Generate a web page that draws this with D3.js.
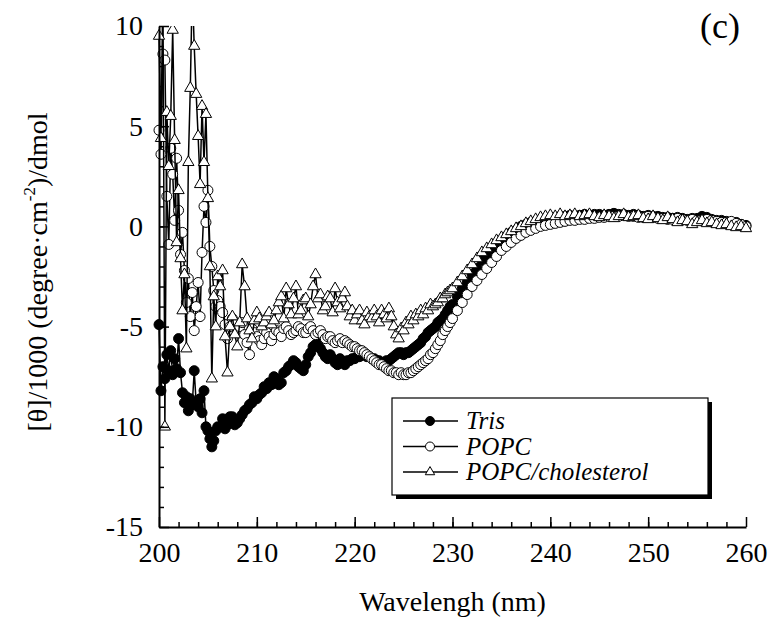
<!DOCTYPE html>
<html>
<head>
<meta charset="utf-8">
<script src="https://cdn.jsdelivr.net/npm/d3@7"></script>
<style>
  body { margin: 0; background: #fff; }
  text { font-family: "Liberation Serif", "Times New Roman", serif; }
</style>
</head>
<body>
<div id="chart"></div>
<script>
// wavelengths (nm)
const wavelengths = [
  200, 200.2, 200.4, 200.6, 200.8, 201, 201.2, 201.4, 201.6, 201.8,
  202, 202.2, 202.4, 202.6, 202.8, 203, 203.2, 203.4, 203.6, 203.8,
  204, 204.2, 204.4, 204.6, 204.8, 205, 205.2, 205.4, 205.6, 205.8, 206,
  206.25, 206.5, 206.75, 207, 207.25, 207.5, 207.75, 208,
  208.25, 208.5, 208.75, 209, 209.25, 209.5, 209.75, 210,
  210.25, 210.5, 210.75, 211, 211.25, 211.5, 211.75, 212,
  212.25, 212.5, 212.75, 213, 213.25, 213.5, 213.75, 214,
  214.25, 214.5, 214.75, 215, 215.25, 215.5, 215.75, 216,
  216.25, 216.5, 216.75, 217, 217.25, 217.5, 217.75, 218,
  218.25, 218.5, 218.75, 219, 219.25, 219.5, 219.75, 220,
  220.25, 220.5, 220.75, 221, 221.25, 221.5, 221.75, 222,
  222.25, 222.5, 222.75, 223, 223.25, 223.5, 223.75, 224,
  224.25, 224.5, 224.75, 225, 225.25, 225.5, 225.75, 226,
  226.25, 226.5, 226.75, 227, 227.25, 227.5, 227.75, 228,
  228.25, 228.5, 228.75, 229, 229.25, 229.5, 229.75, 230,
  230.5, 231, 231.5, 232, 232.5, 233, 233.5, 234, 234.5, 235,
  235.5, 236, 236.5, 237, 237.5, 238, 238.5, 239, 239.5, 240,
  240.5, 241, 241.5, 242, 242.5, 243, 243.5, 244, 244.5, 245,
  245.5, 246, 246.5, 247, 247.5, 248, 248.5, 249, 249.5, 250,
  250.5, 251, 251.5, 252, 252.5, 253, 253.5, 254, 254.5, 255,
  255.5, 256, 256.5, 257, 257.5, 258, 258.5, 259, 259.5, 260
];

const tris = [
  -4.9, -8.2, -7.0, -7.6, -6.4, -7.2, -6.2, -7.4, -6.6, -7.1,
  -5.6, -7.3, -8.3, -8.8, -8.5, -9.2, -8.6, -8.9, -7.2, -8.8,
  -9.0, -8.6, -9.3, -8.2, -10.0, -10.2, -10.6, -11.0, -10.7, -10.2, -10.0,
  -10.0, -9.6, -10.1, -9.9, -9.5, -9.5, -9.9, -9.8,
  -9.6, -9.4, -9.2, -9.1, -8.9, -8.8, -8.5, -8.6,
  -8.4, -8.3, -8.0, -8.1, -7.8, -7.9, -7.5, -7.6,
  -7.9, -7.8, -7.3, -7.2, -7.0, -6.9, -6.7, -6.8,
  -7.0, -7.1, -7.2, -6.9, -6.5, -6.3, -6.0, -5.9,
  -5.8, -6.1, -6.3, -6.5, -6.6, -6.4, -6.6, -6.8,
  -6.9, -6.6, -6.8, -6.9, -6.7, -6.7, -6.6, -6.6,
  -6.5, -6.5, -6.4, -6.4, -6.5, -6.5, -6.6, -6.6,
  -6.7, -6.7, -6.8, -6.8, -6.7, -6.7, -6.6, -6.5,
  -6.4, -6.3, -6.3, -6.4, -6.3, -6.3, -6.2, -6.1,
  -6.0, -5.9, -5.8, -5.6, -5.5, -5.3, -5.2, -5.1,
  -5.0, -4.8, -4.7, -4.6, -4.4, -4.2, -4.0, -3.9,
  -3.5, -3.1, -2.8, -2.4, -2.1, -1.7, -1.4, -1.1, -0.9, -0.7,
  -0.5, -0.3, -0.2, 0.0, 0.1, 0.2, 0.2, 0.3, 0.4, 0.4,
  0.45, 0.5, 0.5, 0.55, 0.5, 0.55, 0.6, 0.55, 0.6, 0.6,
  0.55, 0.6, 0.65, 0.6, 0.6, 0.55, 0.6, 0.55, 0.5, 0.55,
  0.5, 0.5, 0.45, 0.45, 0.4, 0.45, 0.4, 0.35, 0.4, 0.4,
  0.5, 0.45, 0.35, 0.3, 0.3, 0.25, 0.2, 0.2, 0.1, 0.05
];

const popc = [
  4.8, 3.6, 8.6, 8.3, 1.5, -0.9, 3.9, 2.6, 0.3, 3.4,
  0.8, -1.4, -0.3, -2.2, -3.8, -2.6, -4.5, -3.3, -5.2, -4.0,
  -2.8, -4.5, -1.3, 1.0, 0.2, 1.8, -1.0, -2.0, -3.2, -4.0, -3.7,
  -4.0, -4.3, -4.9, -5.6, -5.0, -4.6, -4.9, -5.3,
  -5.0, -4.8, -5.4, -5.8, -6.4, -5.1, -5.3, -5.5,
  -5.7, -5.9, -5.6, -5.3, -5.5, -5.7, -5.4, -5.2,
  -5.3, -5.5, -5.1, -5.0, -5.2, -5.4, -5.3, -5.2,
  -5.0, -5.1, -5.3, -5.3, -5.1, -5.0, -5.2, -5.4,
  -5.3, -5.2, -5.4, -5.6, -5.5, -5.5, -5.7, -5.8,
  -5.7, -5.6, -5.8, -5.7, -5.8, -5.9, -6.0, -6.0,
  -6.1, -6.2, -6.2, -6.3, -6.4, -6.5, -6.6, -6.7,
  -6.8, -6.9, -6.9, -7.0, -7.1, -7.2, -7.2, -7.3,
  -7.3, -7.4, -7.3, -7.4, -7.4, -7.3, -7.3, -7.2,
  -7.1, -7.0, -6.9, -6.8, -6.7, -6.6, -6.4, -6.3,
  -6.1, -5.9, -5.7, -5.4, -5.2, -5.0, -4.8, -4.6,
  -4.2, -3.8, -3.4, -3.0, -2.7, -2.4, -2.1, -1.8, -1.5, -1.2,
  -1.0, -0.8, -0.6, -0.45, -0.3, -0.2, -0.1, 0.0, 0.05, 0.1,
  0.15, 0.2, 0.25, 0.3, 0.3, 0.35, 0.35, 0.4, 0.4, 0.45,
  0.45, 0.5, 0.5, 0.5, 0.55, 0.5, 0.5, 0.45, 0.45, 0.5,
  0.45, 0.4, 0.4, 0.35, 0.35, 0.4, 0.35, 0.3, 0.35, 0.3,
  0.3, 0.35, 0.3, 0.25, 0.2, 0.2, 0.25, 0.15, 0.1, 0.0
];

const popcChol = [
  9.5, 4.4, 12.0, -10.0, 5.7, 3.0, 5.5, 9.8, 4.3, -0.8,
  1.8, -1.6, -4.2, -2.4, -6.1, 3.2, 6.9, 12.0, 9.0, 6.6,
  4.5, 2.1, 6.0, 3.2, 5.6, 1.4, -2.0, -7.6, -3.5, -5.0, -2.5,
  -3.0, -2.2, -5.5, -7.3, -5.0, -4.5, -5.4, -6.0,
  -4.8, -1.9, -3.0, -4.6, -5.2, -5.6, -4.7, -4.3,
  -4.6, -5.0, -4.8, -4.5, -4.3, -4.9, -4.7, -4.2,
  -3.8, -3.5, -4.6, -3.1, -3.9, -4.4, -3.6, -3.0,
  -4.4, -4.2, -3.7, -3.6, -4.5, -3.9, -3.0, -2.4,
  -3.6, -3.4, -4.2, -4.0, -3.5, -3.6, -4.3, -3.1,
  -3.8, -4.1, -3.6, -3.3, -4.0, -4.5, -4.2, -4.7,
  -4.4, -4.2, -4.7, -4.9, -4.3, -4.5, -4.6, -4.2,
  -4.5, -4.8, -4.2, -4.4, -4.6, -4.1, -4.5, -5.0,
  -5.4, -5.6, -5.1, -5.2, -4.8, -4.9, -4.5, -4.7,
  -4.4, -4.5, -4.2, -4.4, -4.1, -4.2, -3.9, -4.0,
  -3.9, -3.8, -3.6, -3.6, -3.4, -3.3, -3.2, -3.1,
  -2.8, -2.5, -2.2, -1.9, -1.6, -1.3, -1.1, -0.9, -0.7, -0.55,
  -0.4, -0.25, -0.1, 0.0, 0.15, 0.25, 0.35, 0.45, 0.5, 0.55,
  0.5, 0.6, 0.5, 0.55, 0.6, 0.5, 0.55, 0.6, 0.5, 0.45,
  0.55, 0.5, 0.4, 0.5, 0.6, 0.45, 0.5, 0.55, 0.4, 0.35,
  0.5, 0.4, 0.3, 0.45, 0.35, 0.2, 0.3, 0.25, 0.1, 0.2,
  0.3, 0.15, 0.2, 0.1, 0.05, 0.1, 0.0, -0.05, 0.0, -0.1
];

const seriesNames = ["Tris", "POPC", "POPC/cholesterol"];
const xTicks = [200, 210, 220, 230, 240, 250, 260];
const yTicks = [-15, -10, -5, 0, 5, 10];

const width = 776, height = 622;
const plotLeft = 159, plotRight = 746, plotTop = 26, plotBottom = 527;

const svg = d3.select("#chart")
  .append("svg")
  .attr("width", width)
  .attr("height", height);

const x = d3.scaleLinear().domain([200, 260]).range([plotLeft, plotRight]);
const y = d3.scaleLinear().domain([-15, 10]).range([plotBottom, plotTop]);

svg.append("defs").append("clipPath")
  .attr("id", "plot")
  .append("rect")
  .attr("x", plotLeft - 8).attr("y", plotTop)
  .attr("width", plotRight - plotLeft + 16).attr("height", plotBottom - plotTop);

const triangle = d3.symbol().type(d3.symbolTriangle);

const series = [
  { name: seriesNames[0], values: tris, marker: "dot" },
  { name: seriesNames[1], values: popc, marker: "circle" },
  { name: seriesNames[2], values: popcChol, marker: "triangle" }
];

const line = d3.line()
  .x((d, i) => x(wavelengths[i]))
  .y(d => y(d));

const plot = svg.append("g").attr("clip-path", "url(#plot)");

function drawMarker(g, s, size) {
  if (s.marker === "triangle") {
    g.append("path")
      .attr("d", triangle.size(size * 5.5)())
      .attr("fill", "#fff")
      .attr("stroke", "#000")
      .attr("stroke-width", 1);
  } else {
    g.append("circle")
      .attr("r", size / 2)
      .attr("fill", s.marker === "dot" ? "#000" : "#fff")
      .attr("stroke", "#000")
      .attr("stroke-width", 1);
  }
}

series.forEach(s => {
  const g = plot.append("g");
  g.append("path")
    .datum(s.values)
    .attr("fill", "none")
    .attr("stroke", "#000")
    .attr("stroke-width", 1.5)
    .attr("d", line);

  g.selectAll("g.pt")
    .data(s.values)
    .enter()
    .append("g")
    .attr("class", "pt")
    .attr("transform", (d, i) => `translate(${x(wavelengths[i])},${y(d)})`)
    .each(function() { drawMarker(d3.select(this), s, 10); });
});

// axes (plain hyphen for negatives, like the original)
const fmt = d => String(d);

svg.append("g")
  .attr("transform", `translate(0,${plotBottom})`)
  .call(d3.axisBottom(x).tickValues(xTicks).tickSizeInner(-10).tickSizeOuter(0).tickPadding(15).tickFormat(fmt));

svg.append("g")
  .attr("transform", `translate(0,${plotBottom})`)
  .call(d3.axisBottom(x).tickValues(d3.range(202, 260, 2)).tickSize(-5).tickFormat(""))
  .call(g => g.select(".domain").remove());

svg.append("g")
  .attr("transform", `translate(${plotLeft},0)`)
  .call(d3.axisLeft(y).tickValues(yTicks).tickSizeInner(-10).tickSizeOuter(0).tickPadding(16).tickFormat(fmt));

svg.append("g")
  .attr("transform", `translate(${plotLeft},0)`)
  .call(d3.axisLeft(y).tickValues(d3.range(-14, 10, 1)).tickSize(-5).tickFormat(""))
  .call(g => g.select(".domain").remove());

svg.selectAll(".domain").attr("stroke-width", 2);
svg.selectAll(".tick line").attr("stroke-width", 1.5);
svg.selectAll(".tick text")
  .attr("font-family", "Liberation Serif")
  .attr("font-size", 28)
  .attr("fill", "#000");

// axis titles
svg.append("text")
  .attr("x", (plotLeft + plotRight) / 2)
  .attr("y", 611)
  .attr("text-anchor", "middle")
  .attr("font-size", 28)
  .text("Wavelengh (nm)");

const yTitle = svg.append("text")
  .attr("transform", "translate(47,272) rotate(-90)")
  .attr("text-anchor", "middle")
  .attr("font-size", 28);
yTitle.append("tspan").text("[θ]/1000 (degree·cm");
yTitle.append("tspan").attr("dy", -12).attr("font-size", 17).text("-2");
yTitle.append("tspan").attr("dy", 12).text(")/dmol");

svg.append("text")
  .attr("x", 700)
  .attr("y", 38)
  .attr("font-size", 36)
  .text("(c)");

// legend
const legend = svg.append("g");
legend.append("rect")
  .attr("x", 396).attr("y", 402).attr("width", 316).attr("height", 97)
  .attr("fill", "#000");
legend.append("rect")
  .attr("x", 392).attr("y", 398).attr("width", 316).attr("height", 97)
  .attr("fill", "#fff").attr("stroke", "#000").attr("stroke-width", 1.2);

series.forEach((s, i) => {
  const ly = 421 + i * 25.5;
  legend.append("line")
    .attr("x1", 403).attr("x2", 458).attr("y1", ly).attr("y2", ly)
    .attr("stroke", "#000").attr("stroke-width", 1.5);
  const m = legend.append("g").attr("transform", `translate(430,${ly})`);
  drawMarker(m, s, s.marker === "triangle" ? 7 : 9);
  legend.append("text")
    .attr("x", 466).attr("y", ly + 8)
    .attr("font-size", 25)
    .attr("font-style", "italic")
    .text(s.name);
});
</script>
</body>
</html>
